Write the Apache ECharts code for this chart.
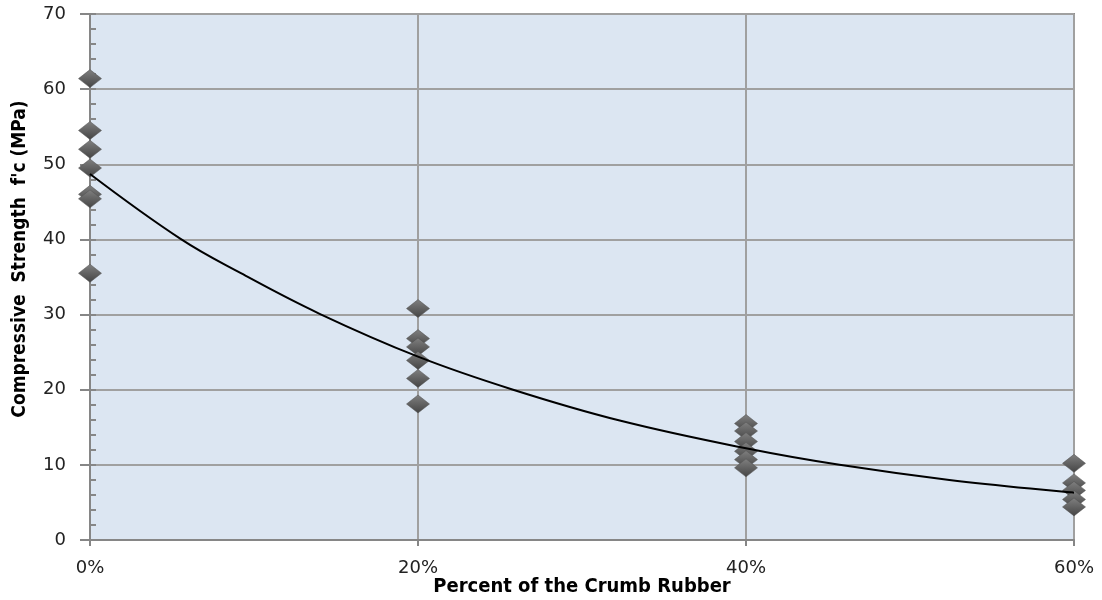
<!DOCTYPE html>
<html>
<head>
<meta charset="utf-8">
<script src="https://cdn.jsdelivr.net/npm/echarts@6/dist/echarts.min.js"></script>
<style>
html, body { margin: 0; padding: 0; background: #fff; }
#chart { width: 1102px; height: 600px; }
</style>
</head>
<body>
<div id="chart"></div>
<script>
// rubber content groups (%), and measured strengths read for each group
var rubberPct = [0, 20, 40, 60];
var strength0 = [61.4, 54.5, 52.0, 49.5, 46.0, 45.4, 35.5];
var strength20 = [30.8, 26.8, 25.7, 23.9, 21.5, 18.1];
var strength40 = [15.5, 14.5, 13.1, 11.8, 10.7, 9.6];
var strength60 = [10.2, 7.6, 6.6, 5.4, 4.4];

// trend curve, points
var trendX = [0, 5.5, 9.2, 14, 20, 25.8, 32.3, 40, 45.7, 52.4, 60];
var trendY = [48.7, 40.1, 35.5, 30.1, 24.4, 20.0, 15.9, 12.2, 10.0, 8.0, 6.3];

var groups = [strength0, strength20, strength40, strength60];
var points = [];
groups.forEach(function (g, i) {
	g.forEach(function (v) {
		points.push([rubberPct[i], v]);
	});
});
var trend = trendX.map(function (x, i) { return [x, trendY[i]]; });

var chart = echarts.init(document.getElementById('chart'));

var labelFont = 'DejaVu Sans';
var titleFont = 'DejaVu Sans Condensed';
var axisGray = '#868686';

chart.setOption({
	animation: false,
	grid: {
		left: 90, right: 28, top: 14, bottom: 60,
		outerBoundsMode: 'none',
		show: true,
		backgroundColor: '#dce6f2',
		borderColor: '#8c8c8c',
		borderWidth: 2
	},
	xAxis: {
		type: 'value',
		min: 0, max: 60, interval: 20,
		name: 'Percent of the Crumb Rubber',
		nameLocation: 'middle',
		nameGap: 37,
		nameMoveOverlap: false,
		nameTextStyle: { fontFamily: titleFont, fontWeight: 'bold', fontSize: 20, color: '#000' },
		axisLine: { lineStyle: { color: axisGray, width: 2 } },
		axisTick: { show: true, length: 6, lineStyle: { color: axisGray, width: 2 } },
		axisLabel: { fontFamily: labelFont, fontSize: 18, color: '#222', margin: 19, formatter: '{value}%' },
		splitLine: { show: true, lineStyle: { color: '#a0a0a0', width: 2 } }
	},
	yAxis: [{
		type: 'value',
		min: 0, max: 70, interval: 10,
		name: "Compressive  Strength  f'c (MPa)",
		nameLocation: 'middle',
		nameRotate: 90,
		nameGap: 60,
		nameTextStyle: { fontFamily: titleFont, fontWeight: 'bold', fontSize: 19, color: '#000', padding: [0, 0, 0, 36] },
		axisLine: { show: true, lineStyle: { color: axisGray, width: 2 } },
		axisTick: { show: true, length: 10, lineStyle: { color: axisGray, width: 2 } },
		axisLabel: { fontFamily: labelFont, fontSize: 18, color: '#222', margin: 24 },
		splitLine: { show: true, lineStyle: { color: '#a0a0a0', width: 2 } }
	}, {
		// minor ticks drawn inside the plot
		type: 'value',
		position: 'left',
		min: 0, max: 70, interval: 2,
		axisLine: { show: false },
		axisTick: { show: true, inside: true, length: 6, lineStyle: { color: axisGray, width: 2 } },
		axisLabel: { show: false },
		splitLine: { show: false }
	}],
	series: [{
		name: 'trend',
		type: 'line',
		data: trend,
		smooth: 0.4,
		symbol: 'none',
		lineStyle: { color: '#000', width: 2 },
		z: 3
	}, {
		name: 'strength',
		type: 'scatter',
		data: points,
		symbol: 'diamond',
		symbolSize: [23, 18],
		itemStyle: {
			color: new echarts.graphic.LinearGradient(0, 0, 0, 1, [
				{ offset: 0, color: '#808080' },
				{ offset: 1, color: '#444444' }
			]),
			borderColor: '#505050',
			borderWidth: 0.5,
			opacity: 1
		},
		z: 2
	}]
});
</script>
</body>
</html>
